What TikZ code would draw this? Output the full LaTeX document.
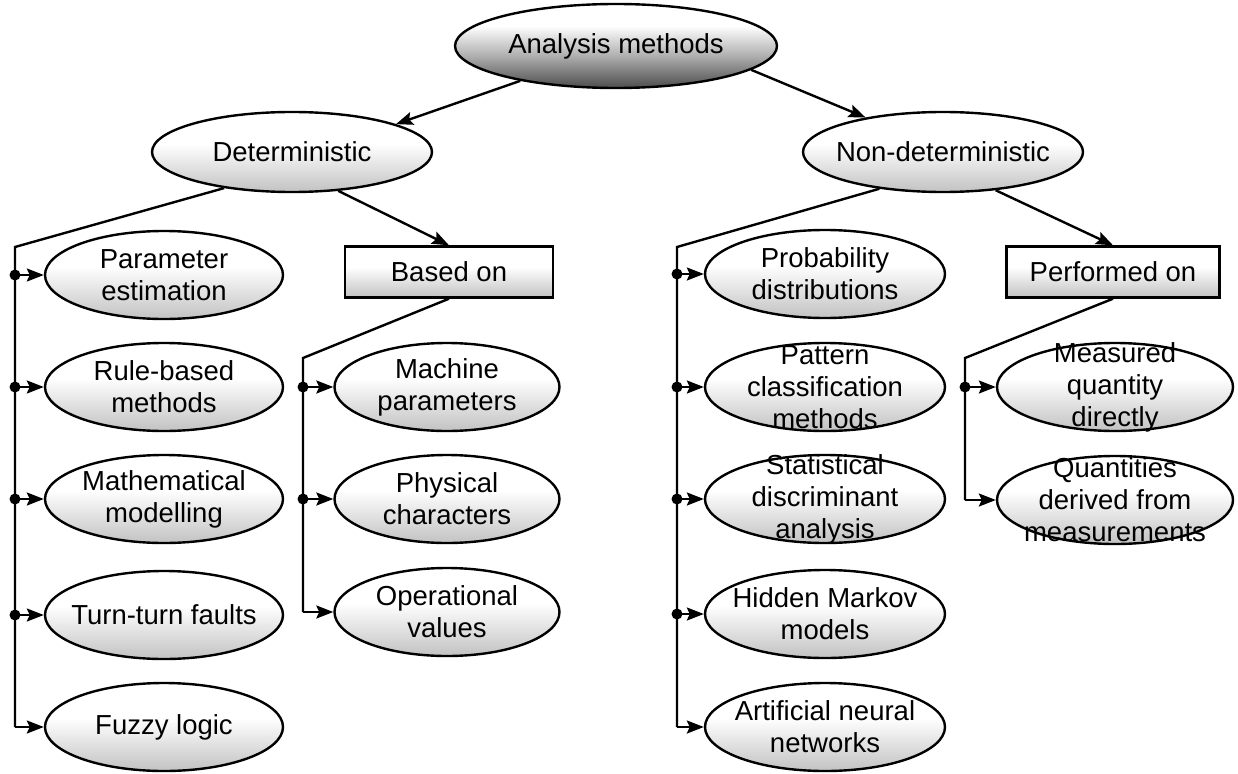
\documentclass[tikz,border=0pt]{standalone}
\usepackage{fontspec}
\setmainfont{Liberation Sans}
\usetikzlibrary{shapes.geometric,arrows.meta}
\pgfdeclareverticalshading{lightshade}{100bp}{color(0bp)=(black!42); color(30bp)=(black!20); color(55bp)=(white); color(100bp)=(white)}
\pgfdeclareverticalshading{darkshade}{100bp}{color(0bp)=(black!90); color(25bp)=(black!70); color(45bp)=(black!30); color(62bp)=(white); color(100bp)=(white)}
\tikzset{
  ell/.style={ellipse, draw=black, line width=2.4pt, shading=lightshade, inner sep=0pt,
    minimum width=238pt, minimum height=88pt},
  etext/.style={align=center, inner sep=0pt, font=\fontsize{27.5}{32}\selectfont},
  boxnode/.style={rectangle, draw=black, line width=2.4pt, shading=lightshade, inner sep=0pt,
    align=center, font=\fontsize{27.5}{32}\selectfont, minimum height=51pt},
  conn/.style={line width=2.4pt, draw=black},
  arr/.style={conn, -{Stealth[length=17pt, width=13pt, inset=3pt]}},
  dotnode/.style={circle, fill=black, inner sep=0pt, minimum size=11pt}
}
\newcommand\ellnode[4]{\node[ell,#1] (#2) at #3 {}; \node[etext] (#2-t) at (#2.center) {#4};}
\begin{document}
\begin{tikzpicture}[x=1pt, y=-1pt]
\useasboundingbox (0,0) rectangle (1238,773);
% top levels
\ellnode{shading=darkshade, minimum width=322pt, minimum height=84pt}{am}{(616,46)}{Analysis methods}
\ellnode{minimum width=280pt, minimum height=80pt}{det}{(292,152)}{Deterministic}
\ellnode{minimum width=280pt, minimum height=80pt}{nd}{(943,152)}{Non-deterministic}
\node[boxnode, minimum width=208pt] (bo) at (449,272) {Based on};
\node[boxnode, minimum width=213pt] (po) at (1113,272) {Performed on};
% left column
\ellnode{}{pe}{(164,275)}{Parameter\\estimation}
\ellnode{}{rb}{(164,387)}{Rule-based\\methods}
\ellnode{}{mm}{(164,499)}{Mathematical\\modelling}
\ellnode{}{tt}{(164,615)}{Turn-turn faults}
\ellnode{}{fz}{(164,727)}{Fuzzy logic}
% middle column
\ellnode{minimum width=225pt}{mp}{(447,387)}{Machine\\parameters}
\ellnode{minimum width=225pt}{pc}{(447,499)}{Physical\\characters}
\ellnode{minimum width=225pt}{ov}{(447,612)}{Operational\\values}
% right column
\ellnode{minimum width=240pt}{pd}{(825,274)}{Probability\\distributions}
\ellnode{minimum width=240pt}{pcm}{(825,387)}{Pattern\\classification\\methods}
\ellnode{minimum width=240pt}{sda}{(825,499)}{Statistical\\discriminant\\analysis}
\ellnode{minimum width=240pt}{hmm}{(825,614)}{Hidden Markov\\models}
\ellnode{minimum width=240pt}{ann}{(825,727)}{Artificial neural\\networks}
% far right
\ellnode{minimum width=236pt}{mq}{(1115,387)}{Measured\\quantity\\directly}
\ellnode{minimum width=236pt}{qd}{(1115,500)}{Quantities\\derived from\\measurements}
% main arrows
\draw[arr] (am.200) -- (det.15);
\draw[arr] (am.-10) -- (nd.156);
\draw[arr] (det.-40) -- (bo.north);
\draw[arr] (nd.-36) -- (po.north);
% deterministic tree
\coordinate (dl) at (15,247);
\draw[conn] (det.208) -- (dl) -- (dl |- fz.west);
\draw[arr] (dl |- fz.west) -- (fz.west);
\foreach \n in {pe,rb,mm,tt}{
  \draw[arr] (dl |- \n.west) -- (\n.west);
  \node[dotnode] at (dl |- \n.west) {};
}
% non-deterministic tree
\coordinate (nl) at (677,247);
\draw[conn] (nd.210) -- (nl) -- (nl |- ann.west);
\draw[arr] (nl |- ann.west) -- (ann.west);
\foreach \n in {pd,pcm,sda,hmm}{
  \draw[arr] (nl |- \n.west) -- (\n.west);
  \node[dotnode] at (nl |- \n.west) {};
}
% based on tree
\coordinate (bl) at (303,358);
\draw[conn] (bo.south) -- (bl) -- (bl |- ov.west);
\draw[arr] (bl |- ov.west) -- (ov.west);
\foreach \n in {mp,pc}{
  \draw[arr] (bl |- \n.west) -- (\n.west);
  \node[dotnode] at (bl |- \n.west) {};
}
% performed on tree
\coordinate (pl) at (965,358);
\draw[conn] (po.south) -- (pl) -- (pl |- qd.west);
\draw[arr] (pl |- qd.west) -- (qd.west);
\draw[arr] (pl |- mq.west) -- (mq.west);
\node[dotnode] at (pl |- mq.west) {};
\end{tikzpicture}
\end{document}
